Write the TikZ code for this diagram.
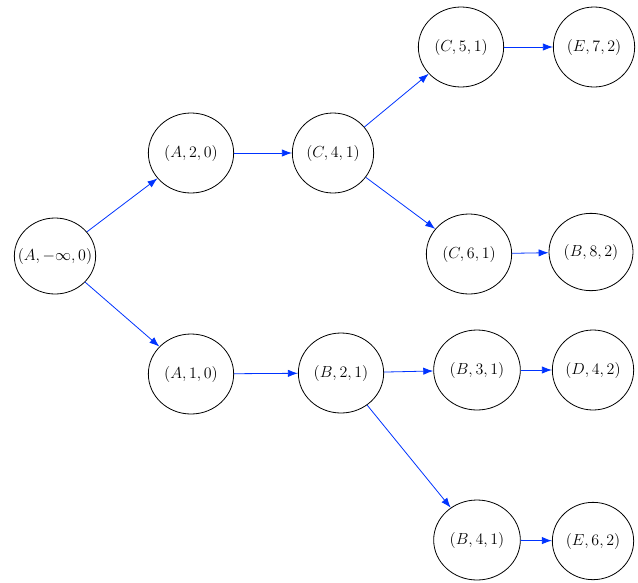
\documentclass[tikz,border=0pt]{standalone}
\usetikzlibrary{shapes.geometric,arrows.meta}
\definecolor{edgeblue}{RGB}{0,51,255}
\begin{document}
\begin{tikzpicture}[x=0.75pt,y=-0.75pt,
  st/.style={draw=black,ellipse,line width=0.6pt,inner sep=0pt,minimum width=63pt,minimum height=60pt,font=\fontsize{11.5}{14}\selectfont},
  ed/.style={draw=edgeblue,line width=0.6pt,-{Latex[length=7.5pt,width=5.5pt]}}]
\useasboundingbox (0,0) rectangle (638,582);
\node[st,minimum width=61pt,minimum height=57pt] (a0) at (55,256) {\makebox[0pt]{$(A,-\infty,0)$}};
\node[st,minimum width=64pt] (a2) at (191,153) {\makebox[0pt]{$(A,2,0)$}};
\node[st,minimum width=61pt] (c4) at (333,153) {\makebox[0pt]{$(C,4,1)$}};
\node[st,minimum width=64pt] (c5) at (461,47) {\makebox[0pt]{$(C,5,1)$}};
\node[st,minimum width=61pt] (e7) at (594,47) {\makebox[0pt]{$(E,7,2)$}};
\node[st,minimum width=64pt] (c6) at (469,254) {\makebox[0pt]{$(C,6,1)$}};
\node[st,minimum width=63pt,minimum height=58pt] (b8) at (591,252) {\makebox[0pt]{$(B,8,2)$}};
\node[st,minimum width=64pt] (a1) at (191,374) {\makebox[0pt]{$(A,1,0)$}};
\node[st,minimum width=64pt] (b2) at (341,373) {\makebox[0pt]{$(B,2,1)$}};
\node[st,minimum width=65pt] (b3) at (477,370) {\makebox[0pt]{$(B,3,1)$}};
\node[st,minimum width=61pt] (d4) at (593,370) {\makebox[0pt]{$(D,4,2)$}};
\node[st,minimum width=65pt] (b4) at (477,540) {\makebox[0pt]{$(B,4,1)$}};
\node[st,minimum width=61pt,minimum height=58pt] (e6) at (593,541) {\makebox[0pt]{$(E,6,2)$}};
\draw[ed] (a0) -- (a2);
\draw[ed] (a0) -- (a1);
\draw[ed] (a2) -- (c4);
\draw[ed] (c4) -- (c5);
\draw[ed] (c4) -- (c6);
\draw[ed] (c5) -- (e7);
\draw[ed] (c6) -- (b8);
\draw[ed] (a1) -- (b2);
\draw[ed] (b2) -- (b3);
\draw[ed] (b2) -- (b4);
\draw[ed] (b3) -- (d4);
\draw[ed] (b4) -- (e6);
\end{tikzpicture}
\end{document}
